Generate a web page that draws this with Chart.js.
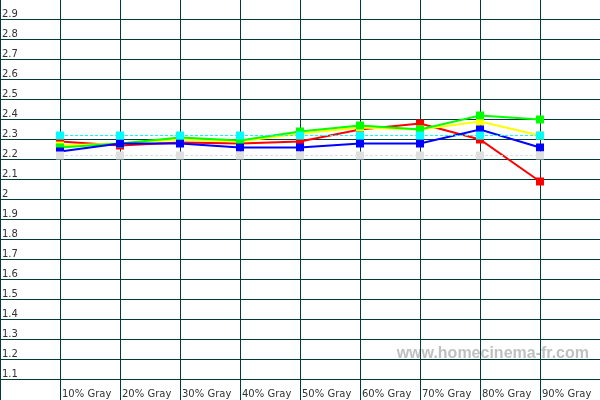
<!DOCTYPE html>
<html>
<head>
<meta charset="utf-8">
<script src="https://cdn.jsdelivr.net/npm/chart.js@4/dist/chart.umd.min.js"></script>
<style>
    html, body { margin: 0; padding: 0; background: #fff; }
    #wrap { width: 600px; height: 400px; }
</style>
</head>
<body>
<div id="wrap"><canvas id="gamma-chart"></canvas></div>
<script>
const grayLevels = ['10% Gray', '20% Gray', '30% Gray', '40% Gray', '50% Gray', '60% Gray', '70% Gray', '80% Gray', '90% Gray'];
const gammaRed = [2.27, 2.25, 2.265, 2.26, 2.27, 2.33, 2.36, 2.28, 2.07];
const gammaYellow = [2.25, 2.26, 2.28, 2.27, 2.31, 2.34, 2.33, 2.37, 2.30];
const gammaGreen = [2.24, 2.26, 2.29, 2.275, 2.32, 2.35, 2.33, 2.40, 2.38];
const gammaBlue = [2.22, 2.26, 2.26, 2.24, 2.24, 2.26, 2.26, 2.33, 2.24];
const gammaAverage = [2.3, 2.3, 2.3, 2.3, 2.3, 2.3, 2.3, 2.3, 2.3];
const gammaTarget = [2.2, 2.2, 2.2, 2.2, 2.2, 2.2, 2.2, 2.2, 2.2];
const yTickLabels = ['1.1', '1.2', '1.3', '1.4', '1.5', '1.6', '1.7', '1.8', '1.9', '2',
    '2.1', '2.2', '2.3', '2.4', '2.5', '2.6', '2.7', '2.8', '2.9'];

const gridColor = '#003a3a';
const textColor = '#333333';

// the old chart puts its grid rows a little under the labelled value
const rowShift = 0.02;

function points(values) {
    return values.map((v, i) => ({x: grayLevels[i], y: v}));
}

function series(values, color, dashed) {
    return {
        data: points(values),
        borderColor: color,
        backgroundColor: color,
        borderWidth: dashed ? 1 : 2,
        borderDash: dashed ? [3, 2] : [],
        pointStyle: 'rect',
        pointRadius: 5.66,
        pointBorderWidth: 0,
        pointHoverRadius: 5.66,
        tension: 0
    };
}

// site name behind the grid
const watermark = {
    id: 'watermark',
    beforeDraw(chart) {
        const ctx = chart.ctx;
        ctx.save();
        ctx.font = 'bold 16px "Liberation Sans"';
        ctx.fillStyle = '#c0c0c0';
        ctx.textAlign = 'right';
        ctx.textBaseline = 'alphabetic';
        ctx.fillText('www.homecinema-fr.com', 589, 358);
        ctx.restore();
    }
};

new Chart(document.getElementById('gamma-chart'), {
    type: 'line',
    data: {
        labels: [''].concat(grayLevels, [' ']),
        datasets: [
            series(gammaTarget, '#e0e0e0', true),
            series(gammaAverage, '#00ffff', true),
            series(gammaBlue, '#0000ff'),
            series(gammaGreen, '#00ff00'),
            series(gammaYellow, '#ffff00'),
            series(gammaRed, '#ff0000')
        ]
    },
    options: {
        responsive: true,
        maintainAspectRatio: false,
        animation: false,
        layout: {padding: 0, autoPadding: false},
        plugins: {
            legend: {display: false},
            tooltip: {enabled: false}
        },
        scales: {
            x: {
                type: 'category',
                offset: false,
                grid: {
                    color: gridColor,
                    lineWidth: 1,
                    drawTicks: true,
                    tickLength: 20,
                    tickColor: gridColor
                },
                border: {display: false},
                ticks: {
                    align: 'start',
                    labelOffset: 2,
                    padding: -12,
                    maxRotation: 0,
                    autoSkip: false,
                    color: textColor,
                    font: {family: 'DejaVu Sans', size: 10}
                },
                afterFit: s => {
                    s.height = 20;
                    s.paddingLeft = 0;
                    s.paddingRight = 0;
                }
            },
            y: {
                min: 1.0775,
                max: 2.9775,
                grid: {
                    color: gridColor,
                    lineWidth: 1,
                    drawTicks: false
                },
                border: {display: false},
                afterBuildTicks: s => {
                    s.ticks = yTickLabels.map(t => ({value: parseFloat(t) - rowShift}));
                },
                ticks: {
                    mirror: true,
                    padding: 2,
                    labelOffset: -5,
                    autoSkip: false,
                    color: textColor,
                    font: {family: 'DejaVu Sans', size: 10},
                    callback: (v, i) => yTickLabels[i]
                },
                afterFit: s => {
                    s.width = 0;
                    s.paddingTop = 0;
                    s.paddingBottom = 0;
                }
            }
        }
    },
    plugins: [watermark]
});
</script>
</body>
</html>
